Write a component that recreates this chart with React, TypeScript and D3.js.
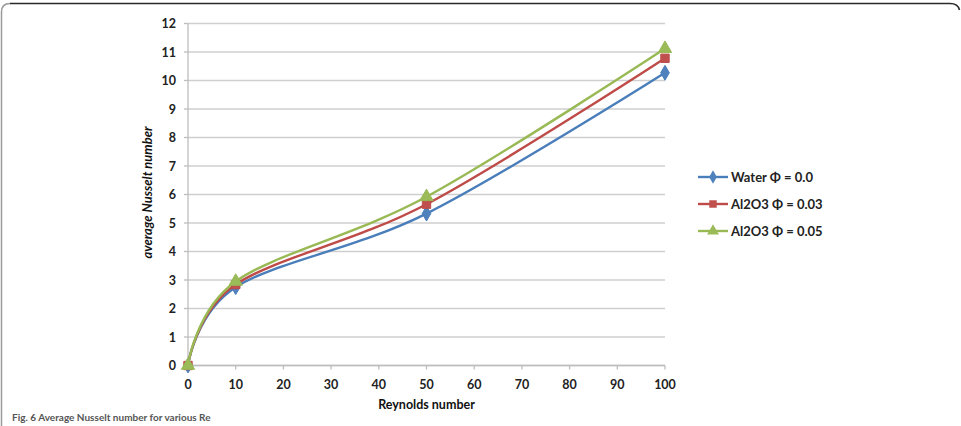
import * as d3 from "d3";

const reynolds = [0, 10, 50, 100];
const waterNu = [0, 2.75, 5.33, 10.27];
const al2o3Nu003 = [0, 2.84, 5.66, 10.78];
const al2o3Nu005 = [0, 2.95, 5.92, 11.12];

const seriesNames = ["Water Φ = 0.0", "Al2O3 Φ = 0.03", "Al2O3 Φ = 0.05"];
const xTicks = [0, 10, 20, 30, 40, 50, 60, 70, 80, 90, 100];
const yTicks = [0, 1, 2, 3, 4, 5, 6, 7, 8, 9, 10, 11, 12];

const W = 961;
const H = 426;
const plot = { left: 188, right: 665, top: 23.5, bottom: 365.5 };

const font = "Lato, 'Open Sans', sans-serif";

const series = [
  { name: seriesNames[0], values: waterNu, line: "#4a7ebb", fill: "#4f81bd", marker: "diamond" },
  { name: seriesNames[1], values: al2o3Nu003, line: "#be4b48", fill: "#c0504d", marker: "square" },
  { name: seriesNames[2], values: al2o3Nu005, line: "#98b954", fill: "#9bbb59", marker: "triangle" },
];

const symbolFor = (m: string) =>
  m === "diamond" ? d3.symbolDiamond : m === "square" ? d3.symbolSquare : d3.symbolTriangle;

const sizeFor = (m: string) => (m === "diamond" ? 64 : m === "square" ? 70 : 76);

export default function App() {
  const x = d3.scaleLinear().domain([0, 100]).range([plot.left, plot.right]);
  const y = d3.scaleLinear().domain([0, 12]).range([plot.bottom, plot.top]);

  const line = d3
    .line<number>()
    .x((_, i) => x(reynolds[i]))
    .y((d) => y(d))
    .curve(d3.curveCardinal.tension(0));

  return (
    <svg
      width={W}
      height={H}
      style={{ position: "absolute", left: 0, top: 0, background: "#fff" }}
      fontFamily={font}
    >
      {/* figure frame */}
      <path d="M1.5,426 L1.5,12 Q1.5,3.5 10,3.5" fill="none" stroke="#9a9a9a" strokeWidth={1.5} />
      <path d="M10,3.5 L950,3.5 Q958,3.5 959.5,10" fill="none" stroke="#2a2a2a" strokeWidth={1.6} />

      {/* grid */}
      {yTicks.map((t) => (
        <line key={"g" + t} x1={plot.left} x2={plot.right} y1={y(t)} y2={y(t)} stroke="#cfcfcf" strokeWidth={1.3} />
      ))}
      <line x1={plot.left} x2={plot.left} y1={plot.top} y2={plot.bottom} stroke="#bdbdbd" strokeWidth={1.3} />
      <line x1={plot.left} x2={plot.right} y1={plot.bottom} y2={plot.bottom} stroke="#bdbdbd" strokeWidth={1.3} />
      {xTicks.map((t) => (
        <line key={"xt" + t} x1={x(t)} x2={x(t)} y1={plot.bottom} y2={plot.bottom + 4} stroke="#bdbdbd" strokeWidth={1.3} />
      ))}
      {yTicks.map((t) => (
        <line key={"yt" + t} x1={plot.left - 4} x2={plot.left} y1={y(t)} y2={y(t)} stroke="#bdbdbd" strokeWidth={1.3} />
      ))}

      {/* tick labels */}
      {yTicks.map((t) => (
        <text key={"yl" + t} x={176} y={y(t)} dy="0.36em" textAnchor="end" fontSize={12.5} fontWeight="bold" fill="#222">
          {t}
        </text>
      ))}
      {xTicks.map((t) => (
        <text key={"xl" + t} x={x(t)} y={384} dy="0.36em" textAnchor="middle" fontSize={12.5} fontWeight="bold" fill="#222">
          {t}
        </text>
      ))}

      {/* axis titles */}
      <text x={(plot.left + plot.right) / 2} y={404} dy="0.36em" textAnchor="middle" fontSize={12.5} fontWeight="bold" fill="#111">
        Reynolds number
      </text>
      <text
        transform={`translate(147,${(plot.top + plot.bottom) / 2 - 2}) rotate(-90)`}
        dy="0.36em"
        textAnchor="middle"
        fontSize={13}
        fontWeight="bold"
        fontStyle="italic"
        fill="#111"
      >
        average Nusselt number
      </text>

      {/* series */}
      {series.map((s) => (
        <path key={"l" + s.name} d={line(s.values) ?? ""} fill="none" stroke={s.line} strokeWidth={2.4} />
      ))}
      {series.map((s) =>
        s.values.map((v, i) => (
          <path
            key={s.name + i}
            transform={`translate(${x(reynolds[i])},${y(v)})`}
            d={d3.symbol().type(symbolFor(s.marker)).size(sizeFor(s.marker))() ?? ""}
            fill={s.fill}
            stroke={s.line}
            strokeWidth={1}
          />
        ))
      )}

      {/* legend */}
      {series.map((s, i) => {
        const ly = 177 + i * 27;
        return (
          <g key={"lg" + s.name}>
            <line x1={698} x2={728} y1={ly} y2={ly} stroke={s.line} strokeWidth={2.4} />
            <path
              transform={`translate(713,${ly})`}
              d={d3.symbol().type(symbolFor(s.marker)).size(sizeFor(s.marker) * 0.8)() ?? ""}
              fill={s.fill}
            />
            <text x={731} y={ly} dy="0.36em" fontSize={13} fontWeight="bold" fill="#222">
              {s.name}
            </text>
          </g>
        );
      })}

      {/* caption along the bottom edge */}
      <text x={12} y={421} fontSize={10} fontWeight="bold" fill="#555">
        Fig. 6 Average Nusselt number for various Re
      </text>
    </svg>
  );
}
